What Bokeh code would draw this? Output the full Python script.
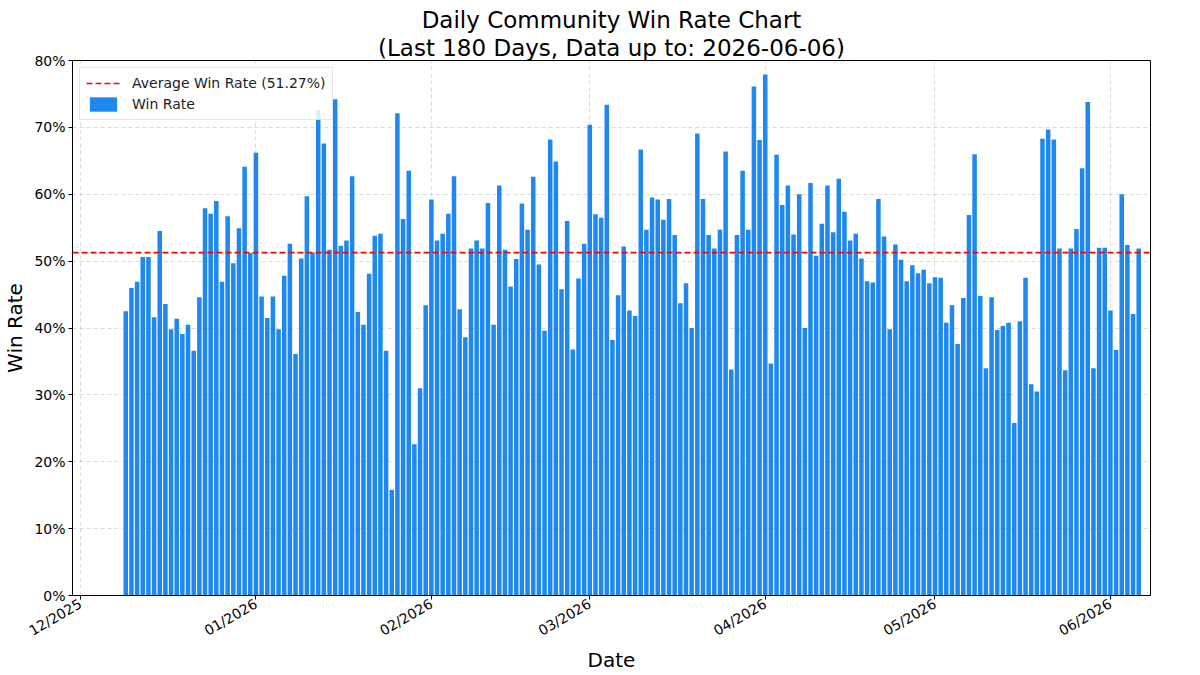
import numpy as np
import pandas as pd
from bokeh.plotting import figure
from bokeh.models import (Span, Legend, LegendItem, FixedTicker, PrintfTickFormatter,
                          DatetimeTickFormatter, Range1d, Title, ColumnDataSource)
from bokeh.embed import file_html
from bokeh.resources import INLINE

# ---------------- data ----------------
last_date = "2026-06-06"
n_days = 180
avg_win_rate = 51.27

win_rate = [
    42.5, 46.0, 46.9, 50.6, 50.6, 41.6, 54.5, 43.6, 39.8, 41.4, 39.1, 40.5, 36.6, 44.6, 57.9, 57.1,
    59.0, 46.9, 56.7, 49.7, 54.9, 64.1, 51.2, 66.2, 44.7, 41.5, 44.7, 39.8, 47.8, 52.6, 36.1, 50.4,
    59.7, 51.3, 72.6, 67.6, 51.7, 74.2, 52.3, 53.1, 62.7, 42.4, 40.5, 48.1, 53.8, 54.1, 36.6, 15.8, 72.1,
    56.3, 63.5, 22.6, 31.0, 43.4, 59.2, 53.1, 54.1, 57.1, 62.7, 42.8, 38.6, 51.9, 53.1, 51.9, 58.7, 40.5,
    61.3, 51.7, 46.2, 50.3, 58.6, 54.7, 62.6, 49.5, 39.6, 68.2, 64.9, 45.8, 56.0, 36.8, 47.4, 52.6, 70.4,
    57.0, 56.5, 73.4, 38.2, 44.9, 52.2, 42.6, 41.8, 66.7, 54.7, 59.5, 59.2, 56.2, 59.3, 53.9, 43.7,
    46.7, 40.0, 69.1, 59.3, 53.9, 51.9, 54.7, 66.4, 33.8, 53.9, 63.5, 54.7, 76.1, 68.1, 77.9, 34.7, 65.9,
    58.4, 61.3, 54.0, 60.0, 40.0, 61.7, 50.8, 55.6, 61.3, 54.3, 62.3, 57.4, 53.1, 54.1, 50.4, 47.0,
    46.8, 59.3, 53.7, 39.8, 52.5, 50.2, 47.0, 49.4, 48.2, 48.7, 46.7, 47.6, 47.5, 40.8, 43.4, 37.6, 44.5,
    56.9, 66.0, 44.8, 34.0, 44.6, 39.7, 40.3, 40.8, 25.8, 41.0, 47.5, 31.6, 30.5, 68.3, 69.7, 68.2, 51.9,
    33.7, 51.9, 54.8, 63.9, 73.8, 34.0, 52.0, 52.0, 42.6, 36.7, 60.0, 52.4, 42.1, 51.9,
]

month_ticks = ["2025-12-01", "2026-01-01", "2026-02-01", "2026-03-01",
               "2026-04-01", "2026-05-01", "2026-06-01"]
y_ticks = [0, 10, 20, 30, 40, 50, 60, 70, 80]

title_line1 = "Daily Community Win Rate Chart"
title_line2 = f"(Last {n_days} Days, Data up to: {last_date})"
x_label = "Date"
y_label = "Win Rate"

# ---------------- build ----------------
dates = pd.date_range(end=last_date, periods=n_days, freq="D")
src = ColumnDataSource(dict(date=dates, rate=win_rate))

FONT = "DejaVu Sans"
DAY_MS = 86400000

x_start = pd.Timestamp(month_ticks[0]) - pd.Timedelta(hours=34)
x_end = pd.Timestamp(month_ticks[-1]) + pd.Timedelta(hours=170)

p = figure(width=1200, height=675, x_axis_type="datetime",
           x_range=Range1d(x_start, x_end), y_range=Range1d(0, 80),
           output_backend="svg", toolbar_location=None, title_location=None,
           min_border_left=71, min_border_right=50, min_border_top=60, min_border_bottom=79)

p.background_fill_color = "white"
p.border_fill_color = "white"
p.outline_line_color = "black"
p.outline_line_width = 1

bars = p.vbar(x="date", top="rate", width=0.8 * DAY_MS, source=src,
              fill_color="#1E88EE", line_color=None)

avg_span = Span(location=avg_win_rate, dimension="width", line_color="red",
                line_dash="6 3", line_width=1.6)
p.add_layout(avg_span)
avg_r = p.line(x=[dates[-1]], y=[avg_win_rate], line_color="red",
               line_dash="6 3", line_width=1.6)

legend = Legend(items=[
    LegendItem(label=f"Average Win Rate ({avg_win_rate:.2f}%)", renderers=[avg_r]),
    LegendItem(label="Win Rate", renderers=[bars]),
], location="top_left")
legend.label_text_font = FONT
legend.label_text_font_size = "14px"
legend.label_text_color = "#222222"
legend.margin = 7
legend.padding = 6
legend.spacing = 3
legend.label_height = 18
legend.glyph_height = 18
legend.glyph_width = 34
legend.label_standoff = 12
legend.border_line_color = "#cccccc"
legend.background_fill_color = "white"
legend.background_fill_alpha = 0.85
p.add_layout(legend)

# axes
p.xaxis.ticker = FixedTicker(ticks=[pd.Timestamp(t).value / 1e6 for t in month_ticks])
p.xaxis.formatter = DatetimeTickFormatter(
    milliseconds="%m/%Y", seconds="%m/%Y", minsec="%m/%Y", minutes="%m/%Y",
    hourmin="%m/%Y", hours="%m/%Y", days="%m/%Y", months="%m/%Y", years="%m/%Y")
p.xaxis.major_label_orientation = np.pi / 6
p.yaxis.ticker = FixedTicker(ticks=y_ticks)
p.yaxis.formatter = PrintfTickFormatter(format="%d%%")

for ax in (p.xaxis, p.yaxis):
    ax.major_label_text_font = FONT
    ax.major_label_text_font_size = "14px"
    ax.major_label_text_color = "black"
    ax.axis_label_text_font = FONT
    ax.axis_label_text_font_style = "normal"
    ax.axis_label_text_color = "black"
    ax.axis_line_color = "black"
    ax.major_tick_line_color = "black"
    ax.major_tick_out = 4
    ax.major_tick_in = 0
    ax.minor_tick_line_color = None
    ax.major_label_standoff = 3

p.yaxis.axis_label = y_label
p.yaxis.axis_label_text_font_size = "20px"
p.yaxis.axis_label_standoff = 4

p.xaxis.axis_label = x_label
p.xaxis.axis_label_text_font_size = "20px"
p.xaxis.axis_label_standoff = 0

for g in (p.xgrid, p.ygrid):
    g.grid_line_color = "#b0b0b0"
    g.grid_line_alpha = 0.6
    g.grid_line_dash = "4 3"
    g.grid_line_width = 0.8

# titles (line nearest plot first)
p.add_layout(Title(text=title_line2, align="center", text_font=FONT, text_font_size="23px",
                   text_font_style="normal", text_color="black", standoff=0, offset=0), "above")
p.add_layout(Title(text=title_line1, align="center", text_font=FONT, text_font_size="23px",
                   text_font_style="normal", text_color="black", standoff=0, offset=0), "above")

open("out.html", "w").write(file_html(p, INLINE))
